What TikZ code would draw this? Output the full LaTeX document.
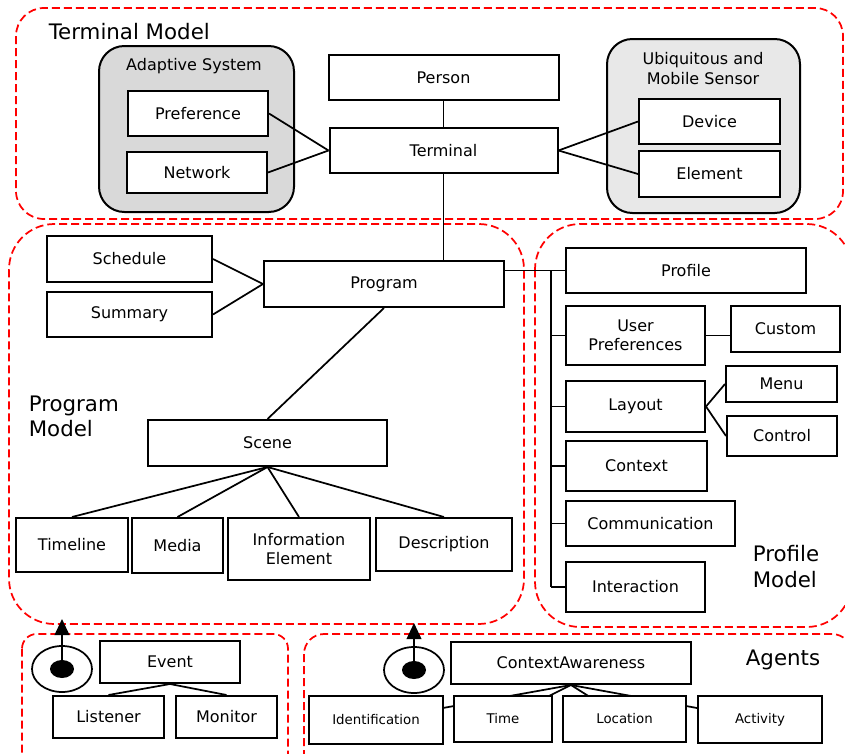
\documentclass[tikz,border=0pt]{standalone}
\usepackage{fontspec}
\setmainfont{DejaVu Sans}
\usetikzlibrary{arrows.meta,shapes.geometric,backgrounds}

\begin{document}
\begin{tikzpicture}[x=0.75pt, y=-0.75pt, line width=1.2pt,
  box/.style={draw, line width=1.5pt, fill=white, inner sep=1pt, align=center,
    font=\fontsize{12}{14.5}\selectfont},
  smallbox/.style={box, font=\fontsize{10}{12}\selectfont},
  sz/.style 2 args={minimum width=#1*0.75pt, minimum height=#2*0.75pt},
  group/.style={draw, line width=1.5pt, rounded corners=19pt},
  zone/.style={draw=red, line width=1.3pt, dash pattern=on 6pt off 3pt},
  biglabel/.style={font=\fontsize{16}{19}\selectfont, align=left, inner sep=0pt},
  grouplabel/.style={font=\fontsize{12}{15}\selectfont, align=center, inner sep=0pt},
  link/.style={line width=1.3pt},
  ring/.style={draw, ellipse, line width=1.3pt, inner sep=0pt, sz={60}{46}},
  hub/.style={fill, ellipse, inner sep=0pt, sz={24}{18}},
  rise/.style={-{Triangle[length=12pt, width=11pt]}}
]
  \useasboundingbox (0,0) rectangle (845,753);
  \clip (0,0) rectangle (845,753);

  % -- dashed zones -------------------------------------------------------
  \draw[zone, rounded corners=21pt] (16,8) rectangle (843,219);
  \draw[zone, rounded corners=34pt] (9,224) rectangle (524,624);
  \draw[zone, rounded corners=34pt] (535,224) rectangle (852,627);
  \draw[zone, rounded corners=11pt] (22,634) rectangle (288,775);
  \draw[zone, rounded corners=15pt] (304,634) rectangle (852,775);

  \node[biglabel, anchor=west] at (48,32) {Terminal Model};
  \node[biglabel, anchor=west] at (28,416.5) {Program\\Model};
  \node[biglabel, anchor=west] at (752,566.5) {Profile\\Model};
  \node[biglabel] at (783,660) {Agents};

  % -- gray groups --------------------------------------------------------
  \fill[black!15] (99,46) [rounded corners=19pt] rectangle (294,212);
  \draw[group] (99,46) rectangle (294,212);
  \fill[black!9] (607,39) [rounded corners=19pt] rectangle (800,213);
  \draw[group] (607,39) rectangle (800,213);
  \node[grouplabel] at (194,66) {Adaptive System};
  \node[grouplabel] at (703,69) {Ubiquitous and\\Mobile Sensor};

  % -- terminal model -----------------------------------------------------
  \node[box, sz={140}{45}] (pref)   at (198,113.5) {Preference};
  \node[box, sz={140}{41}] (net)    at (197,172.5) {Network};
  \node[box, sz={230}{45}] (person) at (443.5,77.5)  {Person};
  \node[box, sz={228}{45}] (term)   at (443.5,150.5) {Terminal};
  \node[box, sz={141}{45}] (dev)    at (709.5,121.5) {Device};
  \node[box, sz={141}{46}] (elem)   at (709.5,174) {Element};

  % -- program model ------------------------------------------------------
  \node[box, sz={165}{46}] (sched)    at (129.5,259)   {Schedule};
  \node[box, sz={165}{45}] (summ)     at (129.5,314.5) {Summary};
  \node[box, sz={240}{46}] (prog)     at (384,284)     {Program};
  \node[box, sz={239}{46}] (scene)    at (267.5,443)   {Scene};
  \node[box, sz={112}{54}] (timeline) at (72,545)      {Timeline};
  \node[box, sz={91}{55}]  (media)    at (177.5,545.5) {Media};
  \node[box, sz={142}{62}] (info)     at (299,549)     {Information\\Element};
  \node[box, sz={136}{53}] (desc)     at (444,544.5)   {Description};

  % -- profile model ------------------------------------------------------
  \node[box, sz={240}{45}] (prof)     at (686,270.5)   {Profile};
  \node[box, sz={139}{59}] (userpref) at (635.5,335.5) {User\\Preferences};
  \node[box, sz={109}{46}] (cust)     at (785.5,329)   {Custom};
  \node[box, sz={139}{51}] (lay)      at (635.5,406.5) {Layout};
  \node[box, sz={111}{36}] (menu)     at (781.5,384)   {Menu};
  \node[box, sz={110}{40}] (ctrl)     at (782,436)     {Control};
  \node[box, sz={141}{50}] (ctx)      at (636.5,466)   {Context};
  \node[box, sz={169}{45}] (com)      at (650.5,523.5) {Communication};
  \node[box, sz={139}{50}] (inter)    at (635.5,587)   {Interaction};
  \coordinate (bus) at (551,0);

  % -- agents -------------------------------------------------------------
  \node[box, sz={140}{42}] (event) at (170,662)   {Event};
  \node[box, sz={111}{42}] (list)  at (108.5,717) {Listener};
  \node[box, sz={101}{42}] (mon)   at (226.5,717) {Monitor};
  \node[box, sz={240}{42}] (ca)    at (571,663)   {ContextAwareness};
  \node[smallbox, sz={134}{48}] (ident) at (376,720)   {Identification};
  \node[smallbox, sz={98}{46}]  (time)  at (503,719)   {Time};
  \node[smallbox, sz={123}{46}] (loc)   at (624.5,719) {Location};
  \node[smallbox, sz={124}{47}] (act)   at (760,719.5) {Activity};

  \node[ring] (evring) at (62,669) {};
  \node[hub]  (evhub)  at (evring) {};
  \node[ring] (caring) at (414,670) {};
  \node[hub]  (cahub)  at (caring) {};
  \coordinate (evtip) at (62,619);
  \coordinate (catip) at (414,623);

  % -- connectors ---------------------------------------------------------
  \draw[link] (pref.east) -- (term.west);
  \draw[link] (net.east) -- (term.west);
  \draw[link] (dev.west) -- (term.east);
  \draw[link] (elem.west) -- (term.east);
  \draw[link] (person.south) -- (term.north);
  \draw[link] (term.south) -- (term.south |- prog.north);

  \draw[link] (sched.east) -- (prog.west);
  \draw[link] (summ.east) -- (prog.west);
  \draw[link] (prog.south) -- (scene.north);
  \foreach \n in {timeline,media,info,desc}
    \draw[link] (scene.south) -- (\n.north);

  \draw[link] (prog.east |- prof.west) -- (prof.west);
  \draw[link] (prof.west -| bus) -- (inter.west -| bus);
  \foreach \n in {userpref,lay,ctx,com,inter}
    \draw[link] (\n.west -| bus) -- (\n.west);
  \draw[link] (userpref.east) -- (userpref.east -| cust.west);
  \draw[link] (lay.east) -- (menu.west);
  \draw[link] (lay.east) -- (ctrl.west);

  \draw[link] (event.south) -- (list.north);
  \draw[link] (event.south) -- (mon.north);
  \begin{pgfonlayer}{background}
    \foreach \n in {ident,time,loc,act}
      \draw[link] (ca.south) -- (\n.center);
  \end{pgfonlayer}

  \draw[link, rise] (evhub.center) -- (evtip);
  \draw[link, rise] (cahub.center) -- (catip);

\end{tikzpicture}
\end{document}
